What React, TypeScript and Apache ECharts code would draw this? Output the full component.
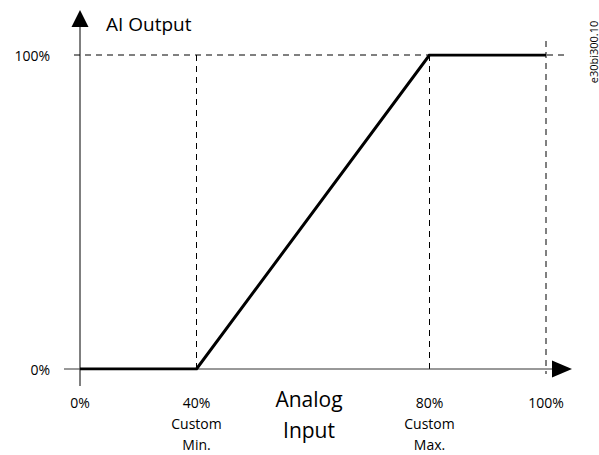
import { useEffect, useRef } from 'react';
import * as echarts from 'echarts';

// Analog input points shown on the horizontal axis (schematic spacing 1:2:1)
const categories = ['0%', '40%', '', '80%', '100%'];
const subLabels = ['', 'Custom\nMin.', '', 'Custom\nMax.', ''];
// AI output (%) at each analog input point; null = straight ramp between points
const outputValues: (number | null)[] = [0, 0, null, 100, 100];
const yMin = 0;
const yMax = 100;
const markerIndices = [1, 3, 4]; // vertical dashed guides: 40%, 80%, 100%

const FONT = 'Open Sans';

export default function App() {
  const ref = useRef<HTMLDivElement>(null);

  useEffect(() => {
    if (!ref.current) return;
    const chart = echarts.init(ref.current, null, { renderer: 'svg' });
    const option: any = {
      animation: false,
      backgroundColor: '#ffffff',
      textStyle: { fontFamily: FONT, color: '#000' },
      grid: {
        left: 80,
        right: 53,
        top: 55,
        bottom: 86,
        containLabel: false,
        outerBoundsMode: 'none',
      },
      xAxis: {
        type: 'category',
        boundaryGap: false,
        data: categories,
        axisLine: { show: false },
        axisTick: { show: false },
        splitLine: { show: false },
        axisLabel: {
          interval: 0,
          margin: 23,
          fontFamily: FONT,
          fontSize: 14,
          lineHeight: 21,
          color: '#000',
          formatter: (value: string, index: number) =>
            subLabels[index] ? value + '\n' + subLabels[index] : value,
        },
        name: 'Analog\nInput',
        nameLocation: 'middle',
        nameGap: 14,
        nameMoveOverlap: false,
        nameTextStyle: {
          fontFamily: FONT,
          fontSize: 21,
          lineHeight: 31,
          color: '#000',
          verticalAlign: 'top',
          padding: [0, 8, 0, 0],
        },
      },
      yAxis: {
        type: 'value',
        min: yMin,
        max: yMax,
        interval: yMax - yMin,
        axisLine: { show: false },
        axisTick: { show: false },
        splitLine: { show: false },
        axisLabel: {
          margin: 30,
          fontFamily: FONT,
          fontSize: 14,
          color: '#000',
          formatter: '{value}%',
        },
        name: 'AI Output',
        nameLocation: 'end',
        nameGap: 22,
        nameMoveOverlap: false,
        nameTextStyle: {
          fontFamily: FONT,
          fontSize: 19,
          color: '#000',
          align: 'left',
          padding: [0, 0, 0, 26],
        },
      },
      series: [
        {
          type: 'line',
          data: outputValues,
          connectNulls: true,
          symbol: 'none',
          lineStyle: { color: '#000', width: 3, join: 'miter' },
          z: 5,
        },
      ],
    };
    chart.setOption(option);

    const p = (i: number, v: number) =>
      chart.convertToPixel({ xAxisIndex: 0, yAxisIndex: 0 }, [i, v]) as number[];
    const origin = p(0, yMin);
    const topLeft = p(0, yMax);
    const lastIdx = categories.length - 1;
    const bottomRight = p(lastIdx, yMin);
    const topRight = p(lastIdx, yMax);
    const x0 = origin[0];
    const y0 = origin[1];
    const y100 = topLeft[1];
    const x100 = bottomRight[0];

    const dash = { stroke: '#000', lineWidth: 1, lineDash: [6, 5] };
    const graphics: any[] = [];
    // horizontal dashed at 100%
    graphics.push({
      type: 'line',
      shape: { x1: x0 - 6, y1: y100, x2: topRight[0] + 21, y2: y100 },
      style: dash,
      z: 1,
    });
    // vertical dashed guides
    markerIndices.forEach((idx) => {
      const top = p(idx, yMax);
      const isLast = idx === lastIdx;
      graphics.push({
        type: 'line',
        shape: {
          x1: top[0],
          y1: isLast ? y100 - 14 : y100,
          x2: top[0],
          y2: idx === 1 ? y0 : y0 + 5,
        },
        style: dash,
        z: 1,
      });
    });
    // y axis with arrow
    graphics.push({
      type: 'line',
      shape: { x1: x0, y1: y0 + 17, x2: x0, y2: y100 - 28 },
      style: { stroke: '#000', lineWidth: 1 },
      z: 2,
    });
    graphics.push({
      type: 'polygon',
      shape: {
        points: [
          [x0, y100 - 45],
          [x0 - 8.5, y100 - 28],
          [x0 + 8.5, y100 - 28],
        ],
      },
      style: { fill: '#000' },
      z: 2,
    });
    // x axis with arrow
    graphics.push({
      type: 'line',
      shape: { x1: x0 - 16, y1: y0, x2: x100 + 7, y2: y0 },
      style: { stroke: '#333', lineWidth: 1 },
      z: 2,
    });
    graphics.push({
      type: 'polygon',
      shape: {
        points: [
          [x100 + 26, y0],
          [x100 + 6, y0 - 8.5],
          [x100 + 6, y0 + 8.5],
        ],
      },
      style: { fill: '#000' },
      z: 2,
    });
    // document code
    graphics.push({
      type: 'text',
      x: 593,
      y: 52,
      rotation: Math.PI / 2,
      style: {
        text: 'e30bi300.10',
        fontFamily: FONT,
        fontSize: 11,
        fill: '#000',
        align: 'center',
        verticalAlign: 'middle',
      },
      z: 3,
    });
    chart.setOption({ graphic: { elements: graphics } });

    return () => chart.dispose();
  }, []);

  return (
    <div
      ref={ref}
      style={{ position: 'fixed', left: 0, top: 0, width: 599, height: 455 }}
    />
  );
}
